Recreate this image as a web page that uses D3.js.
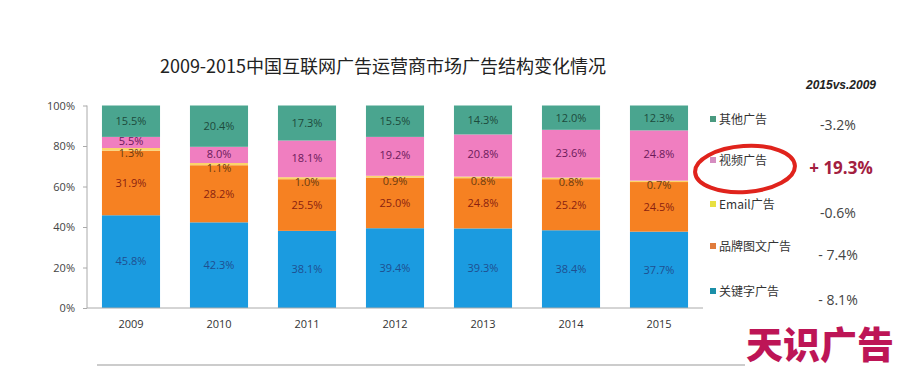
<!DOCTYPE html>
<html><head><meta charset="utf-8">
<script src="https://cdn.jsdelivr.net/npm/d3@7/dist/d3.min.js"></script>
<style>body{margin:0;background:#fff}svg{display:block}</style>
</head><body>
<svg id="c" width="901" height="369"></svg>
<script>
const years = ["2009","2010","2011","2012","2013","2014","2015"];
const seriesNames = ["关键字广告","品牌图文广告","Email广告","视频广告","其他广告"];
const keyword = [45.8,42.3,38.1,39.4,39.3,38.4,37.7];
const brand = [31.9,28.2,25.5,25.0,24.8,25.2,24.5];
const email = [1.3,1.1,1.0,0.9,0.8,0.8,0.7];
const video = [5.5,8.0,18.1,19.2,20.8,23.6,24.8];
const other = [15.5,20.4,17.3,15.5,14.3,12.0,12.3];
const changes = ["- 8.1%","- 7.4%","-0.6%","+ 19.3%","-3.2%"];
const yTicks = [0,20,40,60,80,100];

const colors = ["#1b9be0","#f68122","#fbd66b","#f07ec0","#4aa58f"];
const labelColors = ["#1f4f90","#8a1f10","#6b3a10","#6b1a5a","#1d4a3c"];
const legendColors = ["#1b8fa8","#e07b3c","#e8e040","#d58cc0","#4a9a80"];

const svg = d3.select("#c");
const x = d3.scaleBand().domain(years).range([87,703]).paddingInner(0.34).paddingOuter(0.17);
const y = d3.scaleLinear().domain([0,100]).range([308,105.5]);

const allSeries = [keyword,brand,email,video,other];
const table = years.map((yr,i)=>{const o={year:yr}; seriesNames.forEach((s,j)=>o[s]=allSeries[j][i]); return o;});
const stack = d3.stack().keys(seriesNames)(table);

// title
svg.append("text").attr("x",383).attr("y",73).attr("text-anchor","middle")
  .attr("font-family","'Noto Sans CJK SC','Noto Sans',sans-serif").attr("font-size",18).attr("fill","#222")
  .text("2009-2015中国互联网广告运营商市场广告结构变化情况");
svg.append("text").attr("x",841).attr("y",89).attr("text-anchor","middle")
  .attr("font-family","'Liberation Sans',Arial,sans-serif").attr("font-size",12).attr("font-weight","bold").attr("font-style","italic").attr("fill","#222")
  .text("2015vs.2009");

// bars
stack.forEach((layer,j)=>{
  const g = svg.append("g");
  g.selectAll("rect").data(layer).join("rect")
    .attr("x",d=>x(d.data.year)).attr("width",x.bandwidth())
    .attr("y",d=>y(d[1])).attr("height",d=>y(d[0])-y(d[1]))
    .attr("fill",colors[j]);
});
stack.forEach((layer,j)=>{
  svg.append("g").selectAll("text").data(layer).join("text")
    .attr("x",d=>x(d.data.year)+x.bandwidth()/2)
    .attr("y",d=>(y(d[0])+y(d[1]))/2 + (j===2?4:(j===3?-1:0)))
    .attr("dy","0.35em").attr("text-anchor","middle")
    .attr("font-family","'Open Sans','Noto Sans',sans-serif").attr("font-size",11)
    .attr("fill",labelColors[j])
    .text(d=>(d[1]-d[0]).toFixed(1)+"%");
});

// axes
const yAxis = svg.append("g").attr("transform","translate(87,0)")
  .call(d3.axisLeft(y).tickValues(yTicks).tickFormat(d=>d+"%").tickSize(4).tickPadding(8));
yAxis.select(".domain").attr("stroke","#aaa").attr("d","M0,105.5V308");
yAxis.selectAll(".tick line").attr("stroke","#aaa");
yAxis.selectAll("text").attr("font-family","'Open Sans','Noto Sans',sans-serif").attr("font-size",11).attr("fill","#444");

const xAxis = svg.append("g").attr("transform","translate(0,308)")
  .call(d3.axisBottom(x).tickSize(4).tickPadding(8));
xAxis.select(".domain").attr("stroke","#aaa").attr("d","M87,0H703");
xAxis.selectAll(".tick line").remove();
xAxis.selectAll("text").attr("font-family","'Open Sans','Noto Sans',sans-serif").attr("font-size",11).attr("fill","#333");

// legend (top to bottom: other, video, email, brand, keyword)
const legY = [120,161,205,247,292];
const valY = [125,168,213,255,300];
const order = [4,3,2,1,0];
order.forEach((j,k)=>{
  svg.append("rect").attr("x",710).attr("y",legY[k]-4).attr("width",6).attr("height",6).attr("fill",legendColors[j]);
  svg.append("text").attr("x",719).attr("y",legY[k]).attr("dy","0.35em")
    .attr("font-family","'Noto Sans CJK SC','Noto Sans',sans-serif").attr("font-size",12).attr("fill","#333")
    .text(seriesNames[j]);
  const isVideo = j===3;
  svg.append("text").attr("x",isVideo?841:838).attr("y",valY[k]).attr("dy","0.35em").attr("text-anchor","middle")
    .attr("font-family","'Open Sans','Noto Sans',sans-serif")
    .attr("font-size",isVideo?17:14).attr("font-weight",isVideo?"bold":"normal")
    .attr("fill",isVideo?"#a3203f":"#444")
    .text(changes[j]);
});
// red circle
svg.append("ellipse").attr("cx",745).attr("cy",169).attr("rx",50).attr("ry",23)
  .attr("fill","none").attr("stroke","#e0231c").attr("stroke-width",4)
  .attr("transform","rotate(-4,745,169)");

// bottom line
svg.append("line").attr("x1",97).attr("x2",745).attr("y1",365).attr("y2",365).attr("stroke","#ccc").attr("stroke-width",2);

// watermark
svg.append("text").attr("x",820).attr("y",359).attr("text-anchor","middle")
  .attr("font-family","'Noto Sans CJK SC',sans-serif").attr("font-size",37).attr("font-weight",900)
  .attr("fill","#bd1556").text("天识广告");
</script>
</body></html>
